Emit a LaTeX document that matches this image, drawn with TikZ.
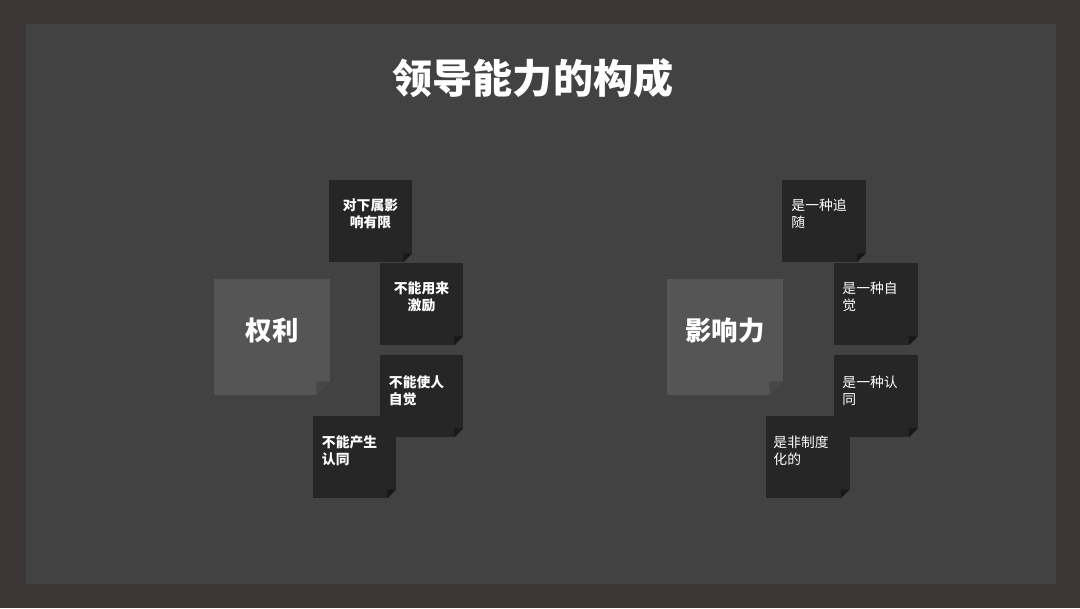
\documentclass[tikz,border=0pt]{standalone}
\usepackage{fontspec}
\setmainfont{Noto Sans CJK SC}
\usetikzlibrary{calc}
\definecolor{frame}{HTML}{3C3736}
\definecolor{panel}{HTML}{424242}
\definecolor{card}{HTML}{262626}
\definecolor{bigcard}{HTML}{555555}
\definecolor{cardfold}{HTML}{181818}
\definecolor{bigfold}{HTML}{474747}

\begin{document}
\begin{tikzpicture}[x=0.025cm, y=-0.025cm,
    note/.style={fill=card, minimum width=2.075cm, minimum height=2.05cm, inner sep=0pt},
    mainnote/.style={fill=bigcard, minimum size=2.9cm, inner sep=0pt},
    notetext/.style={text=white, inner sep=0pt, font=\fontsize{9.8}{12}\selectfont},
    maintext/.style={text=white, inner sep=0pt, font=\bfseries\fontsize{18.8}{22}\selectfont}]
    % background
    \fill[frame] (0, 0) rectangle (1080, 608);
    \fill[panel] (26, 24) rectangle (1056, 584);

    \node[text=white, font=\bfseries\fontsize{28.5}{32}\selectfont] at (533, 78) (title) {领导能力的构成};

    % left group
    \node[mainnote] at (272, 337) (pl) {};
    \node[note] at (370.5, 221) (l1) {};
    \node[note] at (421.5, 304) (l2) {};
    \node[note] at (421.5, 396) (l3) {};
    \node[note] at (354.5, 457) (l4) {};

    % right group
    \node[mainnote] at (725, 337) (pr) {};
    \node[note] at (824, 221) (r1) {};
    \node[note] at (876, 304) (r2) {};
    \node[note] at (876, 396) (r3) {};
    \node[note] at (808, 457) (r4) {};

    % folded corners
    \foreach \n/\c/\f in {pl/14/bigfold, pr/14/bigfold, l1/9/cardfold, l2/9/cardfold,
        l3/9/cardfold, l4/9/cardfold, r1/9/cardfold, r2/9/cardfold, r3/9/cardfold, r4/9/cardfold} {
        \fill[panel] ($(\n.south east)+(-\c,0)$) -- (\n.south east) -- ($(\n.south east)+(0,-\c)$) -- cycle;
        \fill[\f] ($(\n.south east)+(-\c,0)$) -- ($(\n.south east)+(0,-\c)$) -- ($(\n.south east)+(-\c,-\c)$) -- cycle;
    }

    % labels
    \node[maintext] at ($(pl.center)+(0,-7)$) (tpl) {权利};
    \node[maintext] at ($(pr.center)+(0,-7)$) (tpr) {影响力};

    \node[notetext, font=\bfseries\fontsize{9.8}{12}\selectfont, align=center] at ($(l1.center)+(0,-7)$) (tl1) {对下属影\\响有限};
    \node[notetext, font=\bfseries\fontsize{9.8}{12}\selectfont, align=center] at ($(l2.center)+(0,-7)$) (tl2) {不能用来\\激励};
    \node[notetext, font=\bfseries\fontsize{9.8}{12}\selectfont, align=left, anchor=west] at ($(l3.west)+(9,-5)$) (tl3) {不能使人\\自觉};
    \node[notetext, font=\bfseries\fontsize{9.8}{12}\selectfont, align=left, anchor=west] at ($(l4.west)+(9,-6)$) (tl4) {不能产生\\认同};

    \node[notetext, align=left, anchor=west] at ($(r1.west)+(9,-7)$) (tr1) {是一种追\\随};
    \node[notetext, align=left, anchor=west] at ($(r2.west)+(8,-7)$) (tr2) {是一种自\\觉};
    \node[notetext, align=left, anchor=west] at ($(r3.west)+(8,-5)$) (tr3) {是一种认\\同};
    \node[notetext, align=left, anchor=west] at ($(r4.west)+(7,-6)$) (tr4) {是非制度\\化的};
\end{tikzpicture}
\end{document}
